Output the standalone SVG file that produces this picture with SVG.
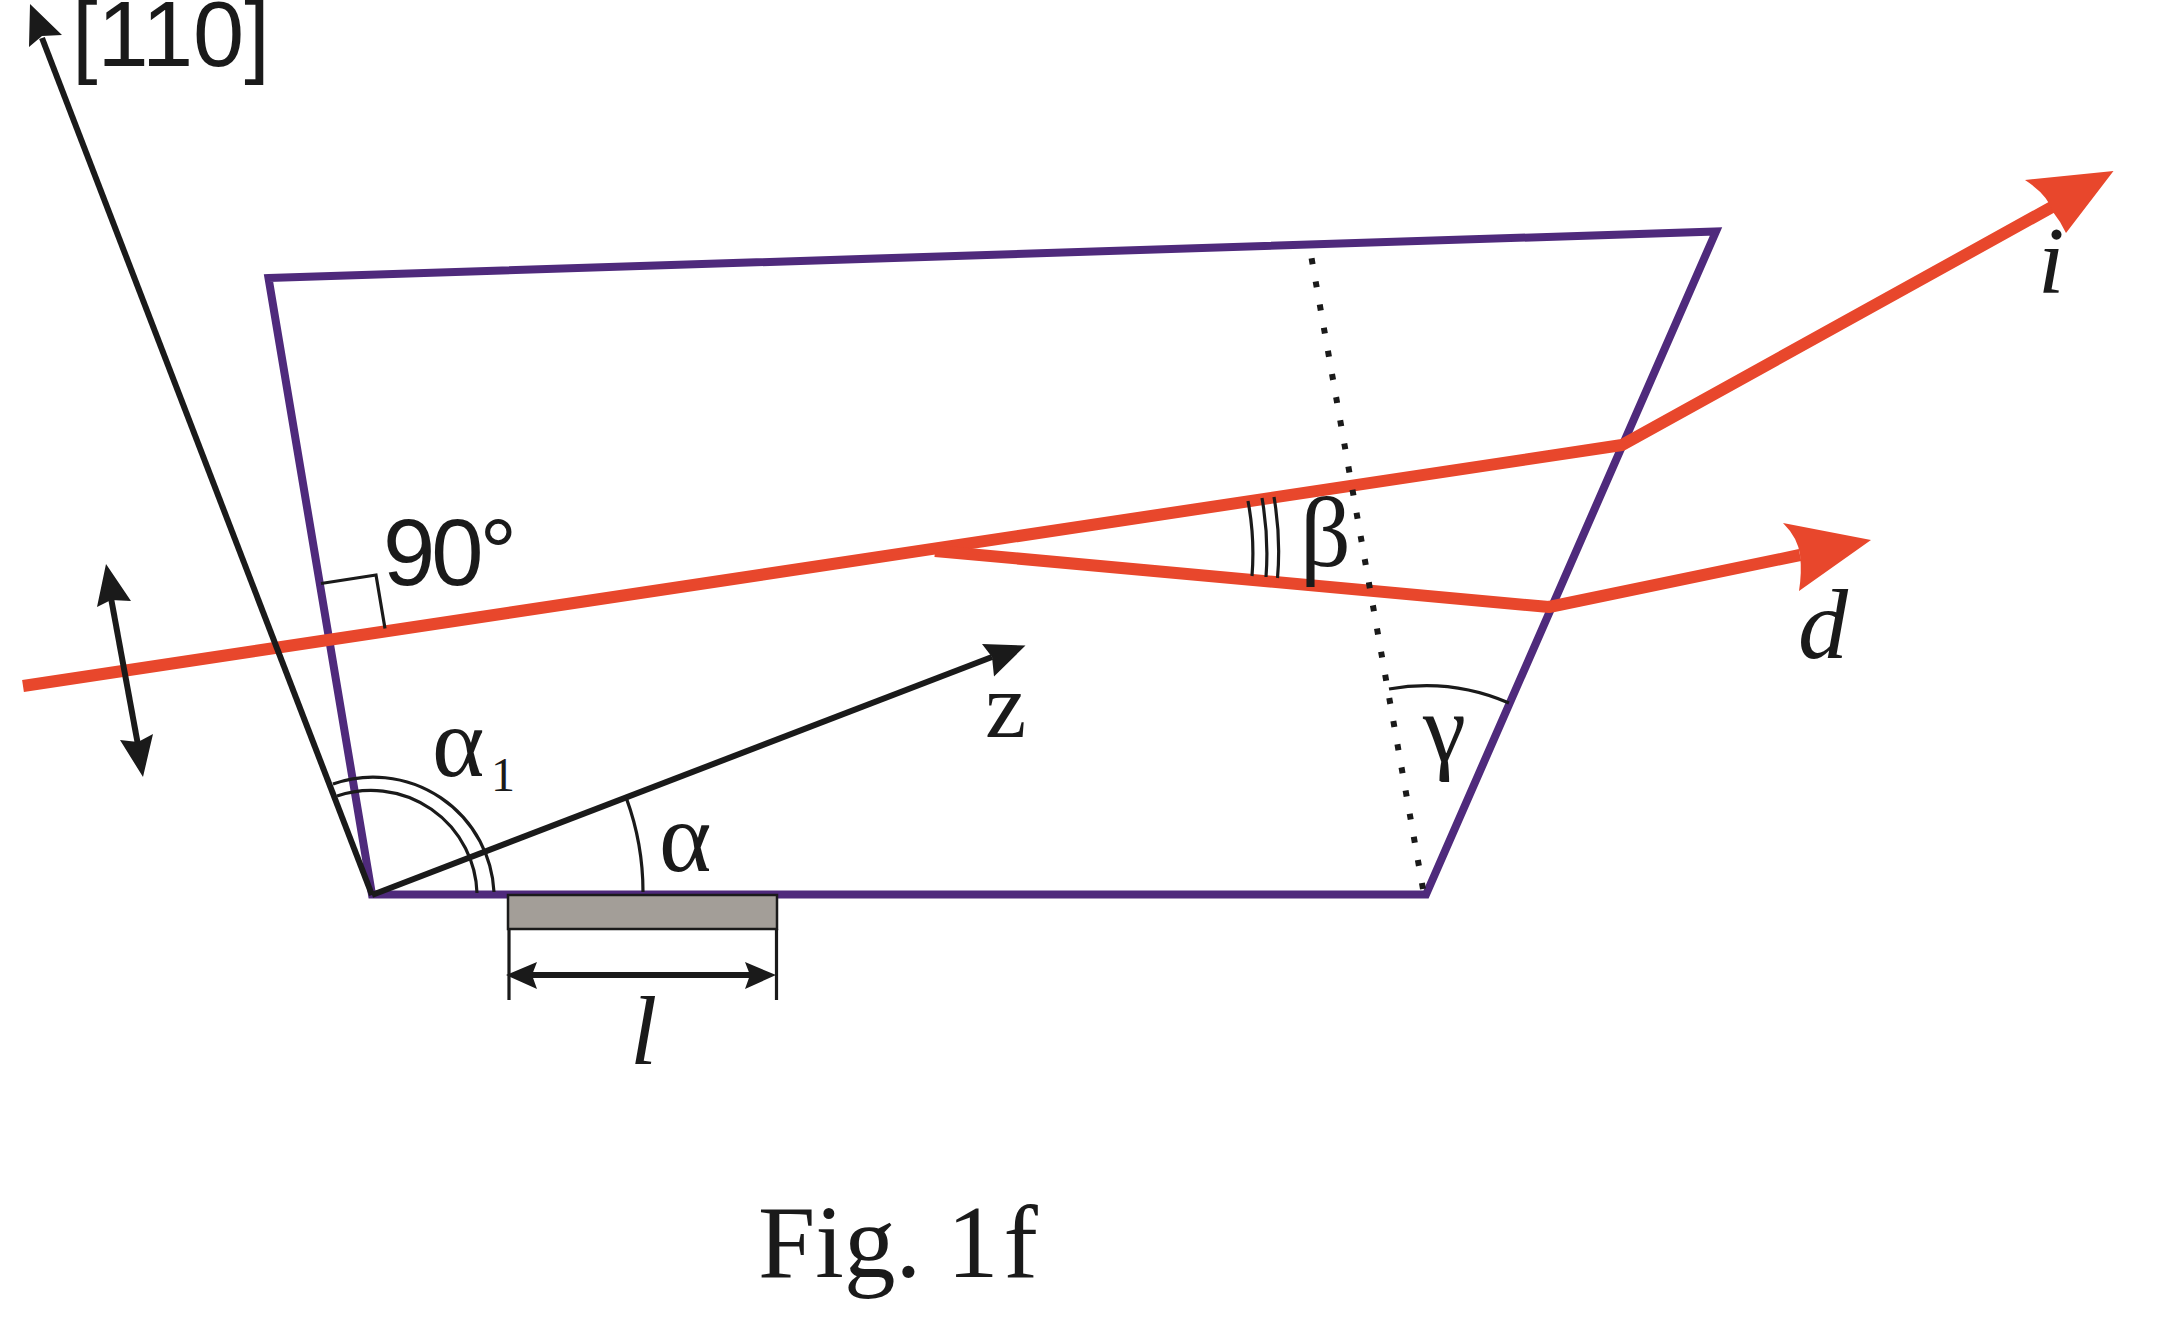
<svg xmlns="http://www.w3.org/2000/svg" width="2172" height="1324" viewBox="0 0 2172 1324">
<style>
.serif{font-family:"Liberation Serif","Times New Roman",serif;fill:#1a1a1a}
.sans{font-family:"Liberation Sans",Arial,sans-serif;fill:#1a1a1a}
.ital{font-style:italic}
.k{fill:none;stroke:#1a1a1a;stroke-width:6}
.thin{fill:none;stroke:#1a1a1a;stroke-width:3.2}
.r{fill:none;stroke:#e8472c;stroke-width:12;stroke-linejoin:round}
.rh{fill:#e8472c}
.kh{fill:#1a1a1a}
</style>
<rect width="2172" height="1324" fill="#fff"/>
<g id="prism"><path d="M268.500 278L1716 231.500L1426 894.500H372Z" fill="none" stroke="#4f2a7c" stroke-width="8"/></g>
<g id="detector"><rect x="508" y="895" width="269" height="34" fill="#a39e98" stroke="#1a1a1a" stroke-width="2.500"/></g>
<g id="connectors">
<path class="r" d="M23 686L1622 445L2052 207"/>
<path class="r" d="M935 551L1549 607L1800 555"/>
<path class="rh" d="M2113.500 171L2025 180Q2048 195 2053 212Q2061 222 2066 233Z"/>
<path class="rh" d="M1871 540L1783 523Q1798 538 1800 555Q1802 572 1799 591Z"/>
<path class="k" d="M372 895L42 38"/>
<path class="kh" d="M30 4L62 35L42 36L29 47Z"/>
<path class="k" d="M372 895L992 657"/>
<path class="kh" d="M1025.500 645.500L982 644L992 657L994 676.500Z"/>
<path class="k" d="M111 598L138 745"/>
<path class="kh" d="M106 564L131 601L111 600L97 607Z"/>
<path class="kh" d="M143 777L120 740L138 742L153 734Z"/>
<path class="k" d="M532 975H752"/>
<path class="kh" d="M506 975L537 962L532 975L537 989Z"/>
<path class="kh" d="M776 975L745 962L750 975L745 989Z"/>
<path class="thin" d="M509 929V1000M776.500 929V1000"/>
<path class="thin" d="M321 583.500L376 575L385 628.500"/>
<path class="thin" d="M626.500 798.600A272 272 0 0 1 643 892"/>
<path class="thin" d="M333 784A121 121 0 0 1 494 892"/>
<path class="thin" d="M337 796A106 106 0 0 1 477 893"/>
<path class="thin" d="M1248 501Q1255 538 1252 576M1262 498Q1269 538 1266 577M1274 497Q1281 538 1277.500 578"/>
<path class="thin" d="M1389 689A209 209 0 0 1 1509 703"/>
<path d="M1423 889L1311 255" fill="none" stroke="#1a1a1a" stroke-width="6" stroke-dasharray="6 17.500"/>
</g>
<g id="labels">
<text class="sans" x="72" y="66" font-size="92">[110]</text>
<text class="sans" x="383" y="585" font-size="94" letter-spacing="-4">90°</text>
<text class="serif" x="432" y="776" font-size="100">α</text>
<text class="serif" x="491" y="791" font-size="48">1</text>
<text class="serif" x="659" y="871" font-size="100">α</text>
<text class="serif" x="985" y="737" font-size="93">z</text>
<text class="serif ital" x="630" y="1064" font-size="98">l</text>
<text class="serif" x="1300" y="566" font-size="100">β</text>
<text class="serif" x="1423" y="761" font-size="97">γ</text>
<text class="serif ital" x="1798" y="658" font-size="100">d</text>
<text class="serif ital" x="2038" y="293" font-size="95">i</text>
<text class="serif" x="758" y="1277" font-size="103">Fig. 1<tspan dx="5">f</tspan></text>
</g>
</svg>
